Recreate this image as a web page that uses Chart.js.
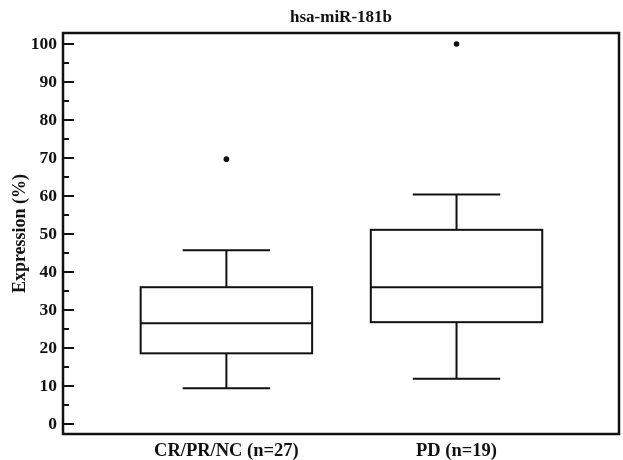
<!DOCTYPE html>
<html>
<head>
<meta charset="utf-8">
<script src="https://cdn.jsdelivr.net/npm/chart.js@4/dist/chart.umd.min.js"></script>
<style>
  html, body { margin: 0; padding: 0; background: #fff; }
  #wrap { width: 623px; height: 460px; }
</style>
</head>
<body>
<div id="wrap"><canvas id="chart"></canvas></div>
<script>
// box plot data per group
const groups = ['CR/PR/NC (n=27)', 'PD (n=19)'];
const groupPos = [1, 2];
const whiskerLow = [9.4, 11.9];
const q1 = [18.6, 26.8];
const median = [26.5, 36.0];
const q3 = [36.0, 51.1];
const whiskerHigh = [45.7, 60.4];
const outliers = [[69.7], [100]];
const yTicks = [0, 10, 20, 30, 40, 50, 60, 70, 80, 90, 100];
const yMinor = [5, 15, 25, 35, 45, 55, 65, 75, 85, 95];

const serif = '"Liberation Serif", "Times New Roman", serif';
const boxWidth = 0.745;
const capWidth = 0.38;

const outlierPoints = [];
outliers.forEach((vals, i) => {
    vals.forEach(v => outlierPoints.push({ x: groupPos[i], y: v }));
});

// draws boxes, whiskers, frame and inward ticks
const boxPlugin = {
    id: 'boxPlot',
    afterDatasetsDraw(chart) {
        const ctx = chart.ctx;
        const xs = chart.scales.x;
        const ys = chart.scales.y;
        const area = chart.chartArea;
        ctx.save();
        ctx.strokeStyle = '#111';
        ctx.lineWidth = 2;
        ctx.lineCap = 'butt';

        groupPos.forEach((p, i) => {
            const xl = xs.getPixelForValue(p - boxWidth / 2);
            const xr = xs.getPixelForValue(p + boxWidth / 2);
            const xc = xs.getPixelForValue(p);
            const cl = xs.getPixelForValue(p - capWidth / 2);
            const cr = xs.getPixelForValue(p + capWidth / 2);
            const yq1 = ys.getPixelForValue(q1[i]);
            const yq3 = ys.getPixelForValue(q3[i]);
            const ym = ys.getPixelForValue(median[i]);
            const ylo = ys.getPixelForValue(whiskerLow[i]);
            const yhi = ys.getPixelForValue(whiskerHigh[i]);

            ctx.strokeRect(xl, yq3, xr - xl, yq1 - yq3);
            ctx.beginPath();
            ctx.moveTo(xl, ym); ctx.lineTo(xr, ym);
            ctx.moveTo(xc, yq3); ctx.lineTo(xc, yhi);
            ctx.moveTo(cl, yhi); ctx.lineTo(cr, yhi);
            ctx.moveTo(xc, yq1); ctx.lineTo(xc, ylo);
            ctx.moveTo(cl, ylo); ctx.lineTo(cr, ylo);
            ctx.stroke();
        });

        // frame
        ctx.lineWidth = 2.5;
        ctx.strokeRect(area.left, area.top, area.right - area.left, area.bottom - area.top);

        // ticks pointing into the plot
        ctx.lineWidth = 2;
        ctx.beginPath();
        yTicks.forEach(v => {
            const y = ys.getPixelForValue(v);
            ctx.moveTo(area.left, y); ctx.lineTo(area.left + 11, y);
        });
        yMinor.forEach(v => {
            const y = ys.getPixelForValue(v);
            ctx.moveTo(area.left, y); ctx.lineTo(area.left + 6, y);
        });
        ctx.stroke();
        ctx.restore();
    }
};

new Chart(document.getElementById('chart'), {
    type: 'scatter',
    data: {
        datasets: [{
            label: 'outliers',
            data: outlierPoints,
            pointRadius: 2.8,
            pointBackgroundColor: '#111',
            pointBorderWidth: 0
        }]
    },
    options: {
        responsive: true,
        maintainAspectRatio: false,
        animation: false,
        layout: { padding: { right: 2, left: 0, top: 0, bottom: 0 } },
        plugins: {
            legend: { display: false },
            tooltip: { enabled: false },
            title: {
                display: true,
                text: 'hsa-miR-181b',
                fullSize: false,
                color: '#111',
                font: { family: serif, size: 17, weight: 'bold' },
                padding: { top: 7, bottom: 5.6 }
            }
        },
        scales: {
            x: {
                type: 'linear',
                min: 0.29,
                max: 2.706,
                grid: { display: false, drawTicks: false },
                border: { display: false },
                afterBuildTicks(axis) {
                    axis.ticks = groupPos.map(v => ({ value: v }));
                },
                afterFit(axis) { axis.height = 26; },
                ticks: {
                    padding: 6,
                    color: '#111',
                    maxRotation: 0,
                    font: { family: serif, size: 18.5, weight: 'bold' },
                    callback: (v) => groups[groupPos.indexOf(v)]
                }
            },
            y: {
                min: -2.63,
                max: 102.9,
                grid: { display: false, drawTicks: false },
                border: { display: false },
                afterBuildTicks(axis) {
                    axis.ticks = yTicks.map(v => ({ value: v }));
                },
                afterFit(axis) { axis.width = 63; },
                ticks: {
                    padding: 6,
                    color: '#111',
                    font: { family: serif, size: 17.5, weight: 'bold' }
                },
                title: {
                    display: true,
                    text: 'Expression (%)',
                    color: '#111',
                    font: { family: serif, size: 18, weight: 'bold' },
                    padding: { top: 10, bottom: 0 }
                }
            }
        }
    },
    plugins: [boxPlugin]
});
</script>
</body>
</html>
